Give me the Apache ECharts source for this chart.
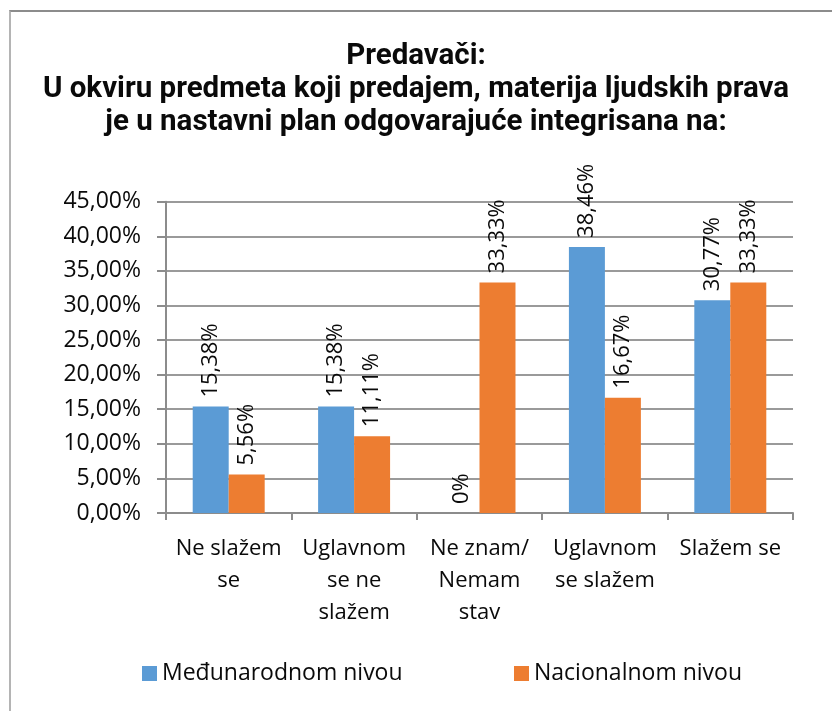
<!DOCTYPE html>
<html>
<head>
<meta charset="utf-8">
<script src="https://cdn.jsdelivr.net/npm/echarts@6/dist/echarts.min.js"></script>
<style>
html,body{margin:0;padding:0;background:#fff;}
#frame{position:absolute;left:9px;top:10px;width:840px;height:720px;border-top:2px solid #8c8c8c;border-left:2px solid #b4b4b4;}
#c{position:absolute;left:0;top:0;width:832px;height:711px;}
</style>
</head>
<body>
<div id="frame"></div>
<div id="c"></div>
<script>
const titleLines = ['Predavači:', 'U okviru predmeta koji predajem, materija ljudskih prava', 'je u nastavni plan odgovarajuće integrisana na:'];
const categories = ['Ne slažem\nse', 'Uglavnom\nse ne\nslažem', 'Ne znam/\nNemam\nstav', 'Uglavnom\nse slažem', 'Slažem se'];
const seriesNames = ['Međunarodnom nivou', 'Nacionalnom nivou'];
const international = [15.38, 15.38, 0, 38.46, 30.77];
const national = [5.56, 11.11, 33.33, 16.67, 33.33];
const colors = ['#5B9BD5', '#ED7D31'];

const FONT = 'Open Sans';
const TXT = '#0a0a0a';
function fmtLabel(v){ return v === 0 ? '0%' : v.toFixed(2).replace('.', ',') + '%'; }

const chart = echarts.init(document.getElementById('c'), null, {renderer:'canvas'});
const labelCfg = {
  show: true, position: 'top', rotate: 90, distance: 9,
  align: 'left', verticalAlign: 'middle',
  fontFamily: FONT, fontSize: 22, fontWeight: 500, color: TXT,
  formatter: p => fmtLabel(p.value)
};
const legendText = {fontFamily: FONT, fontSize: 23, fontWeight: 500, color: TXT};
chart.setOption({
  backgroundColor: 'transparent',
  animation: false,
  title: {
    text: titleLines.join('\n'),
    left: 'center', top: 35,
    textStyle: {fontFamily: 'Roboto', fontWeight: 'bold', fontSize: 29.5, lineHeight: 33, color: TXT}
  },
  legend: [
    {data: [seriesNames[0]], left: 142, top: 662, padding: 0, itemWidth: 15, itemHeight: 15, itemGap: 0, icon: 'rect',
     textStyle: legendText},
    {data: [seriesNames[1]], left: 514, top: 662, padding: 0, itemWidth: 15, itemHeight: 15, itemGap: 0, icon: 'rect',
     textStyle: legendText}
  ],
  grid: {left: 166, right: 39, top: 201.7, bottom: 198, containLabel: false},
  xAxis: {
    type: 'category', data: categories,
    axisLine: {lineStyle: {color: '#8c8c8c', width: 2}},
    axisTick: {show: true, length: 7, lineStyle: {color: '#8c8c8c', width: 2}},
    axisLabel: {fontFamily: FONT, fontSize: 22, fontWeight: 500, color: TXT, lineHeight: 32, margin: 20, interval: 0}
  },
  yAxis: {
    type: 'value', min: 0, max: 45, interval: 5,
    axisLine: {show: true, lineStyle: {color: '#8c8c8c', width: 2}},
    axisTick: {show: true, length: 9, lineStyle: {color: '#8c8c8c', width: 2}},
    splitLine: {lineStyle: {color: '#9a9a9a', width: 2}},
    axisLabel: {fontFamily: FONT, fontSize: 23, fontWeight: 500, color: TXT, margin: 25,
      formatter: v => v.toFixed(2).replace('.', ',') + '%'}
  },
  series: [
    {name: seriesNames[0], type: 'bar', data: international, barGap: '0%', barCategoryGap: '42.6%',
     itemStyle: {color: colors[0]}, label: labelCfg},
    {name: seriesNames[1], type: 'bar', data: national, barGap: '0%', barCategoryGap: '42.6%',
     itemStyle: {color: colors[1]}, label: labelCfg}
  ]
});
</script>
</body>
</html>
